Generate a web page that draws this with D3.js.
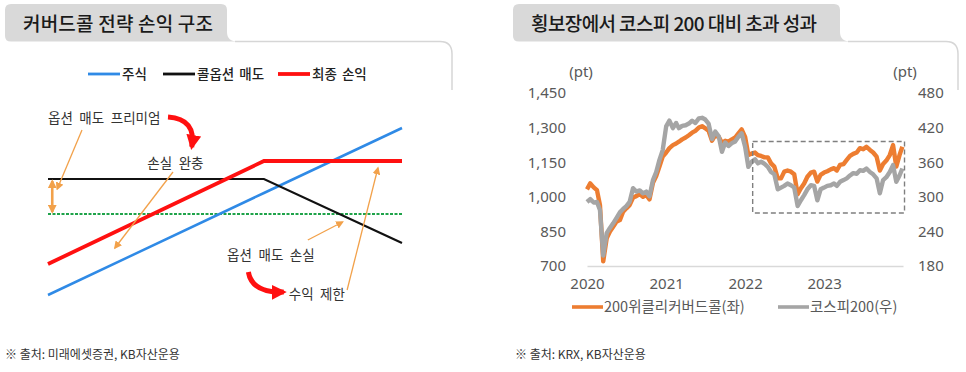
<!DOCTYPE html>
<html>
<head>
<meta charset="utf-8">
<script src="https://cdn.jsdelivr.net/npm/d3@7"></script>
<style>
  body { margin: 0; background: #fff; }
  svg { display: block; font-family: "Noto Sans CJK KR", "Noto Sans", sans-serif; }
</style>
</head>
<body>
<svg id="chart" width="966" height="372"></svg>
<script>
// ---- left panel: covered call payoff (price 0~100, pnl in arbitrary units)
const payoffPrice = [0, 61, 100];
const stockPayoff = [-81, 21, 86];
const shortCallPayoff = [35, 35, -29];
const totalPayoff = [-50, 53, 53];
const payoffNames = ["주식", "콜옵션 매도", "최종 손익"];

// ---- right panel: semi-monthly closes, 2020-01 ~ 2023-12
const coveredCall = [
  1032, 1058, 1041, 1029, 964, 720, 820, 849, 870, 892, 899, 935,
  950, 964, 997, 1003, 1012, 1000, 1008, 989, 1061, 1090, 1131, 1174,
  1192, 1211, 1224, 1231, 1239, 1249, 1257, 1267, 1278, 1286, 1300, 1306,
  1297, 1286, 1243, 1267, 1260, 1234, 1243, 1239, 1249, 1257, 1275, 1292,
  1260, 1181, 1188, 1192, 1181, 1177, 1171, 1171, 1145, 1131, 1080, 1080,
  1109, 1114, 1109, 1098, 1011, 1037, 1058, 1087, 1105, 1109, 1066, 1095,
  1105, 1111, 1119, 1124, 1114, 1138, 1142, 1160, 1177, 1186, 1192, 1211,
  1206, 1217, 1203, 1192, 1174, 1114, 1142, 1157, 1181, 1224, 1131, 1181, 1217
];
const kospi200 = [
  291, 296, 290, 291, 277, 198, 237, 246, 254, 263, 273, 279,
  284, 291, 315, 309, 311, 306, 309, 301, 329, 343, 364, 381,
  422, 432, 419, 428, 419, 423, 424, 427, 432, 428, 436, 437,
  434, 427, 400, 413, 405, 378, 394, 388, 393, 396, 404, 410,
  387, 352, 361, 365, 358, 361, 357, 352, 343, 339, 313, 316,
  319, 323, 320, 316, 284, 294, 303, 313, 320, 319, 294, 313,
  316, 319, 320, 323, 319, 326, 329, 332, 337, 341, 340, 346,
  345, 349, 343, 339, 332, 306, 329, 334, 343, 355, 326, 337, 349
];
const seriesNames = ["200위클리커버드콜(좌)", "코스피200(우)"];
const yearTicks = ["2020", "2021", "2022", "2023"];
const leftTicks = [700, 850, 1000, 1150, 1300, 1450];
const rightTicks = [180, 240, 300, 360, 420, 480];
// sideways market window marked with the dashed box
const boxWindow = { from: "2022-02-05", to: "2024-01-08", top: 1240, bottom: 930 };

const parseDate = d3.timeParse("%Y-%m-%d");
let obsDates = [];
d3.timeMonth.range(parseDate("2020-01-01"), parseDate("2024-01-01")).forEach(m => {
  obsDates.push(m);
  obsDates.push(d3.timeDay.offset(m, 15));
});
obsDates.push(parseDate("2023-12-29"));

const svg = d3.select("#chart");
const defs = svg.append("defs");

function addMarker(id, color, size, orient) {
  defs.append("marker")
    .attr("id", id)
    .attr("viewBox", "0 0 10 10")
    .attr("refX", 8).attr("refY", 5)
    .attr("markerUnits", "userSpaceOnUse")
    .attr("markerWidth", size).attr("markerHeight", size)
    .attr("orient", orient || "auto")
    .append("path")
    .attr("d", "M0,0 L10,5 L0,10 z")
    .attr("fill", color);
}
addMarker("tipOrange", "#f2a14a", 8);
addMarker("tipOrangeBig", "#f2a14a", 9, "auto-start-reverse");
addMarker("tipRed", "#ff1010", 15);

// header tab + thin frame line
function drawHeader(x0, x1, frameEnd, title, spacing) {
  svg.append("path")
    .attr("d", `M${x0 + 6},4 H${x1 - 6} Q${x1},4 ${x1},10 V32 Q${x1},41.5 ${x1 + 11},41.5 ` +
      `H${x0 + 6} Q${x0},41.5 ${x0},36 V10 Q${x0},4 ${x0 + 6},4 Z`)
    .attr("fill", "#d9d9d9");

  svg.append("path")
    .attr("d", `M${x1 + 8},41.5 H${frameEnd - 12} Q${frameEnd},41.5 ${frameEnd},54 V90`)
    .attr("fill", "none")
    .attr("stroke", "#d6d6d6")
    .attr("stroke-width", 1.5);

  svg.append("text")
    .attr("x", x0 + 18)
    .attr("y", 24)
    .attr("dy", "0.35em")
    .attr("font-size", 19)
    .attr("font-weight", 500)
    .attr("letter-spacing", spacing)
    .attr("fill", "#1a1a1a")
    .text(title);
}
drawHeader(5, 227, 452, "커버드콜 전략 손익 구조", 0.2);
drawHeader(513, 840, 958, "횡보장에서 코스피 200 대비 초과 성과", -0.6);

// footnotes
svg.append("text").attr("x", 5).attr("y", 355).attr("dy", "0.35em")
  .attr("font-size", 12).attr("fill", "#333").text("※ 출처: 미래에셋증권, KB자산운용");
svg.append("text").attr("x", 515).attr("y", 355).attr("dy", "0.35em")
  .attr("font-size", 12).attr("fill", "#333").text("※ 출처: KRX, KB자산운용");

// ================= left: payoff diagram =================
const px = d3.scaleLinear().domain([0, 100]).range([48, 402]);
const py = d3.scaleLinear().domain([-100, 100]).range([314, 114]);

const payoffLine = d3.line()
  .x((d, i) => px(payoffPrice[i]))
  .y(d => py(d));

const payoffStyles = [
  { color: "#2f8ae6", width: 2.5 },
  { color: "#111111", width: 2.2 },
  { color: "#ff1010", width: 3.8 },
];
const payoffData = [stockPayoff, shortCallPayoff, totalPayoff];

const left = svg.append("g");

left.append("line")
  .attr("x1", px(0)).attr("x2", px(100))
  .attr("y1", py(0)).attr("y2", py(0))
  .attr("stroke", "#1fa34a")
  .attr("stroke-width", 2)
  .attr("stroke-dasharray", "3,1.5");

left.selectAll(".payoff")
  .data(payoffData)
  .join("path")
  .attr("class", "payoff")
  .attr("d", d => payoffLine(d))
  .attr("fill", "none")
  .attr("stroke", (d, i) => payoffStyles[i].color)
  .attr("stroke-width", (d, i) => payoffStyles[i].width);

// legend
const payoffLegendX = [88, 163, 278];
const lg = left.selectAll(".lg")
  .data(payoffNames)
  .join("g")
  .attr("transform", (d, i) => `translate(${payoffLegendX[i]},74)`);
lg.append("line")
  .attr("x2", 32)
  .attr("stroke", (d, i) => payoffStyles[i].color)
  .attr("stroke-width", (d, i) => i == 2 ? 3.8 : 2.8);
lg.append("text")
  .attr("x", 34).attr("dy", "0.35em")
  .attr("font-size", 13.5).attr("font-weight", 500).attr("fill", "#222")
  .attr("word-spacing", 2)
  .text(d => d);

// annotations (in diagram units)
const notes = [
  { text: "옵션 매도 프리미엄", x: 0, y: 96, anchor: "start" },
  { text: "손실 완충", x: 36, y: 51, anchor: "middle" },
  { text: "옵션 매도 손실", x: 50.6, y: -41, anchor: "start" },
  { text: "수익 제한", x: 68, y: -80, anchor: "start" },
];
const pointers = [
  [[9.6, 84], [2.6, 25]],
  [[35.3, 42], [18.9, -34]],
  [[73.4, -26], [83.2, -8]],
  [[84.5, -76], [93.2, 46]],
];
const premiumGap = [[1.2, 33], [1.2, 2]];
const bendArrows = [
  [[33.9, 97], [42, 95], [40.6, 67]],
  [[56.6, -58], [57.6, -79], [66.6, -78]],
];

left.selectAll(".note")
  .data(notes)
  .join("text")
  .attr("x", d => px(d.x)).attr("y", d => py(d.y))
  .attr("dy", "0.35em")
  .attr("text-anchor", d => d.anchor)
  .attr("font-size", 13.5)
  .attr("word-spacing", 3.5)
  .attr("fill", "#333")
  .text(d => d.text);

left.selectAll(".ptr")
  .data(pointers)
  .join("line")
  .attr("x1", d => px(d[0][0])).attr("y1", d => py(d[0][1]))
  .attr("x2", d => px(d[1][0])).attr("y2", d => py(d[1][1]))
  .attr("stroke", "#f2a14a")
  .attr("stroke-width", 1.3)
  .attr("marker-end", "url(#tipOrange)");

left.append("line")
  .attr("x1", px(premiumGap[0][0])).attr("y1", py(premiumGap[0][1]))
  .attr("x2", px(premiumGap[1][0])).attr("y2", py(premiumGap[1][1]))
  .attr("stroke", "#f2a14a")
  .attr("stroke-width", 2.6)
  .attr("marker-start", "url(#tipOrangeBig)")
  .attr("marker-end", "url(#tipOrangeBig)");

left.selectAll(".bend")
  .data(bendArrows)
  .join("path")
  .attr("d", d => `M${px(d[0][0])},${py(d[0][1])} Q${px(d[1][0])},${py(d[1][1])} ${px(d[2][0])},${py(d[2][1])}`)
  .attr("fill", "none")
  .attr("stroke", "#ff1010")
  .attr("stroke-width", 5)
  .attr("marker-end", "url(#tipRed)");

// ================= right: covered call vs KOSPI200 =================
const x = d3.scaleTime()
  .domain([parseDate("2020-01-01"), parseDate("2024-01-01")])
  .range([587, 903]);
const yL = d3.scaleLinear().domain([700, 1450]).range([266, 93]);
const yR = d3.scaleLinear().domain([180, 480]).range([266, 93]);

const right = svg.append("g");

right.append("g")
  .attr("transform", "translate(0,266)")
  .call(d3.axisBottom(x)
    .tickValues(yearTicks.map(y => parseDate(y + "-01-01")))
    .tickFormat(d3.timeFormat("%Y"))
    .tickSize(0).tickSizeOuter(0).tickPadding(12))
  .call(g => g.select(".domain").attr("stroke", "#d9d9d9").attr("stroke-width", 1.3))
  .call(g => g.selectAll("text").attr("font-size", 15).attr("fill", "#595959")
    .attr("font-family", "'Noto Sans', sans-serif"));

right.append("g")
  .attr("transform", "translate(570,0)")
  .call(d3.axisLeft(yL).tickValues(leftTicks).tickFormat(d3.format(",")).tickSize(0).tickPadding(4))
  .call(g => g.select(".domain").remove())
  .call(g => g.selectAll("text").attr("font-size", 15).attr("fill", "#595959")
    .attr("font-family", "'Noto Sans', sans-serif"));

right.append("g")
  .attr("transform", "translate(914,0)")
  .call(d3.axisRight(yR).tickValues(rightTicks).tickSize(0).tickPadding(4))
  .call(g => g.select(".domain").remove())
  .call(g => g.selectAll("text").attr("font-size", 15).attr("fill", "#595959")
    .attr("font-family", "'Noto Sans', sans-serif"));

right.append("text").attr("x", 581).attr("y", 72).attr("dy", "0.35em")
  .attr("text-anchor", "middle").attr("font-size", 15).attr("fill", "#595959")
  .attr("font-family", "'Noto Sans', sans-serif").text("(pt)");
right.append("text").attr("x", 905).attr("y", 72).attr("dy", "0.35em")
  .attr("text-anchor", "middle").attr("font-size", 15).attr("fill", "#595959")
  .attr("font-family", "'Noto Sans', sans-serif").text("(pt)");

const ccLine = d3.line()
  .x((d, i) => x(obsDates[i]))
  .y(d => yL(d));
const kospiLine = d3.line()
  .x((d, i) => x(obsDates[i]))
  .y(d => yR(d));

right.append("path")
  .attr("d", ccLine(coveredCall))
  .attr("fill", "none")
  .attr("stroke", "#ed7d31")
  .attr("stroke-width", 4.4)
  .attr("stroke-linejoin", "round");

right.append("path")
  .attr("d", kospiLine(kospi200))
  .attr("fill", "none")
  .attr("stroke", "#a5a5a5")
  .attr("stroke-width", 4.4)
  .attr("stroke-linejoin", "round");

right.append("rect")
  .attr("x", x(parseDate(boxWindow.from)))
  .attr("y", yL(boxWindow.top))
  .attr("width", x(parseDate(boxWindow.to)) - x(parseDate(boxWindow.from)))
  .attr("height", yL(boxWindow.bottom) - yL(boxWindow.top))
  .attr("fill", "none")
  .attr("stroke", "#7f7f7f")
  .attr("stroke-width", 1.4)
  .attr("stroke-dasharray", "5,3");

// legend
const seriesColors = ["#ed7d31", "#a5a5a5"];
const legendX = [572, 778];
const rl = right.selectAll(".rl")
  .data(seriesNames)
  .join("g")
  .attr("transform", (d, i) => `translate(${legendX[i]},307)`);
rl.append("line")
  .attr("x2", 31)
  .attr("stroke", (d, i) => seriesColors[i])
  .attr("stroke-width", 3.6);
rl.append("text")
  .attr("x", 32).attr("dy", "0.35em")
  .attr("font-size", 14.5).attr("fill", "#595959")
  .text(d => d);
</script>
</body>
</html>
